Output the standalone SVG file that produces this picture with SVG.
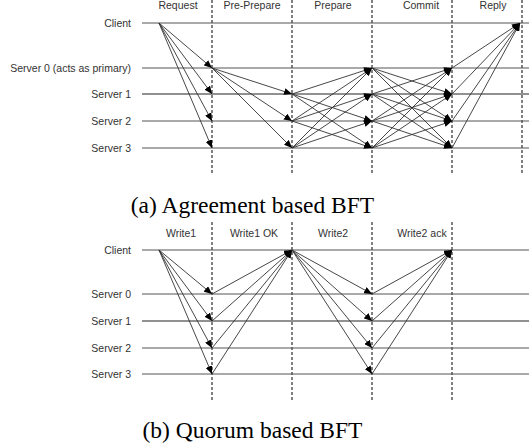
<svg xmlns="http://www.w3.org/2000/svg" width="529" height="448" viewBox="0 0 529 448">
<defs>
<style>
.lbl{font-family:"Liberation Sans",Arial,sans-serif;font-size:10.5px;fill:#333}
.nl{font-family:"Liberation Sans",Arial,sans-serif;font-size:10.5px;fill:#333;text-anchor:end}
.ph{font-family:"Liberation Sans",Arial,sans-serif;font-size:10.5px;fill:#333;text-anchor:middle}
.cap{font-family:"Liberation Serif","Times New Roman",serif;font-size:23.5px;fill:#000;text-anchor:middle}
.tl{stroke:#555;stroke-width:1;fill:none}
.dash{stroke:#000;stroke-width:1;stroke-dasharray:3,2;fill:none}
.msg{stroke:#333;stroke-width:0.9;fill:none;marker-end:url(#ah)}
</style>
<marker id="ah" markerUnits="userSpaceOnUse" markerWidth="9" markerHeight="7" refX="8" refY="3.5" orient="auto">
<path d="M0,0 L8,3.5 L0,7 z" fill="#000"/>
</marker>
</defs>
<rect width="529" height="448" fill="#fff"/>

<!-- (a) Agreement based BFT -->
<g id="phases-a">
<line class="dash" x1="212" y1="0" x2="212" y2="175"/>
<line class="dash" x1="292" y1="0" x2="292" y2="175"/>
<line class="dash" x1="372" y1="0" x2="372" y2="175"/>
<line class="dash" x1="452" y1="0" x2="452" y2="175"/>
<line class="dash" x1="522" y1="0" x2="522" y2="175"/>
<text class="ph" x="178" y="9">Request</text>
<text class="ph" x="252" y="9">Pre-Prepare</text>
<text class="ph" x="333" y="9">Prepare</text>
<text class="ph" x="421" y="9">Commit</text>
<text class="ph" x="493" y="9">Reply</text>
</g>
<g id="a-client"><line class="tl" x1="142" y1="23" x2="529" y2="23"/><text class="nl" x="131" y="27">Client</text></g>
<g id="a-server0"><line class="tl" x1="142" y1="68" x2="529" y2="68"/><text class="nl" x="131" y="72">Server 0 (acts as primary)</text></g>
<g id="a-server1"><line class="tl" x1="142" y1="94" x2="529" y2="94" style="stroke:#222"/><text class="nl" x="131" y="98">Server 1</text></g>
<g id="a-server2"><line class="tl" x1="142" y1="121" x2="529" y2="121"/><text class="nl" x="131" y="125">Server 2</text></g>
<g id="a-server3"><line class="tl" x1="142" y1="148" x2="529" y2="148"/><text class="nl" x="131" y="152">Server 3</text></g>

<g id="connectors-a">
<!-- request -->
<line class="msg" x1="159" y1="23" x2="212" y2="68"/>
<line class="msg" x1="159" y1="23" x2="212" y2="94"/>
<line class="msg" x1="159" y1="23" x2="212" y2="121"/>
<line class="msg" x1="159" y1="23" x2="212" y2="148"/>
<!-- pre-prepare -->
<line class="msg" x1="212" y1="68" x2="292" y2="94"/>
<line class="msg" x1="212" y1="68" x2="292" y2="121"/>
<line class="msg" x1="212" y1="68" x2="292" y2="148"/>
<!-- prepare -->
<line class="msg" x1="292" y1="94" x2="372" y2="68"/>
<line class="msg" x1="292" y1="94" x2="372" y2="121"/>
<line class="msg" x1="292" y1="94" x2="372" y2="148"/>
<line class="msg" x1="292" y1="121" x2="372" y2="68"/>
<line class="msg" x1="292" y1="121" x2="372" y2="94"/>
<line class="msg" x1="292" y1="121" x2="372" y2="148"/>
<line class="msg" x1="292" y1="148" x2="372" y2="68"/>
<line class="msg" x1="292" y1="148" x2="372" y2="94"/>
<line class="msg" x1="292" y1="148" x2="372" y2="121"/>
<!-- commit -->
<line class="msg" x1="372" y1="68" x2="452" y2="94"/>
<line class="msg" x1="372" y1="68" x2="452" y2="121"/>
<line class="msg" x1="372" y1="68" x2="452" y2="148"/>
<line class="msg" x1="372" y1="94" x2="452" y2="68"/>
<line class="msg" x1="372" y1="94" x2="452" y2="121"/>
<line class="msg" x1="372" y1="94" x2="452" y2="148"/>
<line class="msg" x1="372" y1="121" x2="452" y2="68"/>
<line class="msg" x1="372" y1="121" x2="452" y2="94"/>
<line class="msg" x1="372" y1="121" x2="452" y2="148"/>
<line class="msg" x1="372" y1="148" x2="452" y2="68"/>
<line class="msg" x1="372" y1="148" x2="452" y2="94"/>
<line class="msg" x1="372" y1="148" x2="452" y2="121"/>
<!-- reply -->
<line class="msg" x1="452" y1="68" x2="520" y2="23"/>
<line class="msg" x1="452" y1="94" x2="520" y2="23"/>
<line class="msg" x1="452" y1="121" x2="520" y2="23"/>
<line class="msg" x1="452" y1="148" x2="520" y2="23"/>
</g>
<text class="cap" x="252.5" y="213">(a) Agreement based BFT</text>

<!-- (b) Quorum based BFT -->
<g id="phases-b">
<line class="dash" x1="212" y1="222" x2="212" y2="402"/>
<line class="dash" x1="292" y1="222" x2="292" y2="402"/>
<line class="dash" x1="372" y1="222" x2="372" y2="402"/>
<line class="dash" x1="452" y1="222" x2="452" y2="402"/>
<text class="ph" x="181" y="237">Write1</text>
<text class="ph" x="254" y="237">Write1 OK</text>
<text class="ph" x="333" y="237">Write2</text>
<text class="ph" x="422" y="237">Write2 ack</text>
</g>
<g id="b-client"><line class="tl" x1="142" y1="250" x2="529" y2="250"/><text class="nl" x="131" y="254">Client</text></g>
<g id="b-server0"><line class="tl" x1="142" y1="294" x2="529" y2="294"/><text class="nl" x="131" y="298">Server 0</text></g>
<g id="b-server1"><line class="tl" x1="142" y1="321" x2="529" y2="321" style="stroke:#222"/><text class="nl" x="131" y="325">Server 1</text></g>
<g id="b-server2"><line class="tl" x1="142" y1="348" x2="529" y2="348"/><text class="nl" x="131" y="352">Server 2</text></g>
<g id="b-server3"><line class="tl" x1="142" y1="374" x2="529" y2="374"/><text class="nl" x="131" y="378">Server 3</text></g>

<g id="connectors-b">
<line class="msg" x1="159" y1="250" x2="212" y2="294"/>
<line class="msg" x1="159" y1="250" x2="212" y2="321"/>
<line class="msg" x1="159" y1="250" x2="212" y2="348"/>
<line class="msg" x1="159" y1="250" x2="212" y2="374"/>
<line class="msg" x1="212" y1="294" x2="292" y2="250"/>
<line class="msg" x1="212" y1="321" x2="292" y2="250"/>
<line class="msg" x1="212" y1="348" x2="292" y2="250"/>
<line class="msg" x1="212" y1="374" x2="292" y2="250"/>
<line class="msg" x1="292" y1="250" x2="372" y2="294"/>
<line class="msg" x1="292" y1="250" x2="372" y2="321"/>
<line class="msg" x1="292" y1="250" x2="372" y2="348"/>
<line class="msg" x1="292" y1="250" x2="372" y2="374"/>
<line class="msg" x1="372" y1="294" x2="452" y2="250"/>
<line class="msg" x1="372" y1="321" x2="452" y2="250"/>
<line class="msg" x1="372" y1="348" x2="452" y2="250"/>
<line class="msg" x1="372" y1="374" x2="452" y2="250"/>
</g>
<text class="cap" x="252.5" y="438">(b) Quorum based BFT</text>
</svg>
